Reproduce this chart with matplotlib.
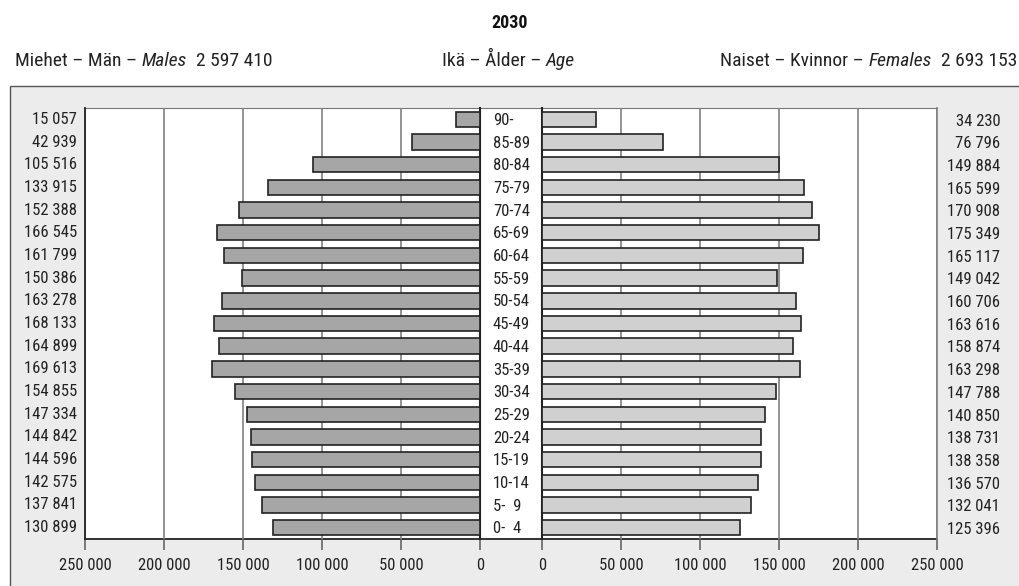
import matplotlib
matplotlib.use("Agg")
import matplotlib.pyplot as plt
from matplotlib.patches import Rectangle
from matplotlib.ticker import FuncFormatter

plt.rcParams['font.family'] = ['Roboto Condensed', 'Liberation Sans Narrow',
                               'Liberation Sans', 'DejaVu Sans']

ages = ["90-", "85-89", "80-84", "75-79", "70-74", "65-69", "60-64", "55-59",
        "50-54", "45-49", "40-44", "35-39", "30-34", "25-29", "20-24", "15-19",
        "10-14", "5-  9", "0-  4"]
males = [15057, 42939, 105516, 133915, 152388, 166545, 161799, 150386, 163278,
         168133, 164899, 169613, 154855, 147334, 144842, 144596, 142575, 137841,
         130899]
females = [34230, 76796, 149884, 165599, 170908, 175349, 165117, 149042, 160706,
           163616, 158874, 163298, 147788, 140850, 138731, 138358, 136570, 132041,
           125396]
ticks = [0, 50000, 100000, 150000, 200000, 250000]
title = "2030"
males_total = "2 597 410"
females_total = "2 693 153"


def fmt(v):
    return f"{int(v):,}".replace(",", " ")


W, H = 1020, 586
fig = plt.figure(figsize=(W / 100, H / 100), dpi=100)
fig.patch.set_facecolor('white')


def fx(px):
    return px / W


def fy(py):
    return 1 - py / H


# outer grey box
fig.patches.append(Rectangle((fx(10), -0.01), fx(1020) - fx(10), fy(86) + 0.01,
                             transform=fig.transFigure, facecolor='#ececec',
                             edgecolor='#555555', linewidth=1.0, zorder=-5))

top, bot = 108, 539
bottom_f = fy(bot)
height_f = (bot - top) / H

# white plotting background spanning both halves
bg = fig.add_axes([fx(85), bottom_f, fx(937) - fx(85), height_f])
bg.set_facecolor('white')
bg.set_xticks([])
bg.set_yticks([])
for s in ['left', 'right']:
    bg.spines[s].set_visible(False)
bg.spines['top'].set_color('#777777')
bg.spines['bottom'].set_color('#222222')
bg.spines['bottom'].set_linewidth(1.3)

axL = fig.add_axes([fx(85), bottom_f, fx(480) - fx(85), height_f])
axR = fig.add_axes([fx(542), bottom_f, fx(937) - fx(542), height_f])

n = len(ages)
ypos = list(range(n))[::-1]

for ax, vals, col in [(axL, males, '#a6a6a6'), (axR, females, '#d0d0d0')]:
    ax.patch.set_alpha(0)
    ax.barh(ypos, vals, height=0.68, color=col, edgecolor='#222222',
            linewidth=1.2, zorder=3)
    ax.set_ylim(-0.5, n - 0.5)
    ax.set_yticks([])
    ax.set_xticks(ticks)
    ax.xaxis.set_major_formatter(FuncFormatter(lambda v, p: fmt(v)))
    ax.tick_params(axis='x', length=8, width=1.2, color='#666666',
                   labelsize=12, pad=6, labelcolor='#222222')
    ax.grid(axis='x', color='#808080', linewidth=1.2, zorder=0)
    ax.spines['top'].set_visible(False)
    ax.spines['bottom'].set_visible(False)

axL.set_xlim(250000, 0)
axR.set_xlim(0, 250000)
axL.spines['left'].set_color('#222222')
axL.spines['right'].set_color('#222222')
axL.spines['left'].set_linewidth(1.3)
axL.spines['right'].set_linewidth(1.5)
axR.spines['left'].set_color('#222222')
axR.spines['left'].set_linewidth(1.5)
axR.spines['right'].set_color('#808080')
axR.spines['right'].set_linewidth(1.2)

# value and age labels
age_x = (493 - 542) / (937 - 542)
for y, m, f, a in zip(ypos, males, females, ages):
    axL.text(-0.02, y, fmt(m), transform=axL.get_yaxis_transform(),
             ha='right', va='center', fontsize=12, color='#222222')
    axR.text(1.16, y - 0.08, fmt(f), transform=axR.get_yaxis_transform(),
             ha='right', va='center', fontsize=12, color='#222222')
    axR.text(age_x, y - 0.05, a, transform=axR.get_yaxis_transform(),
             ha='left', va='center', fontsize=12, color='#222222',
             clip_on=False, zorder=10)

# headings
fig.text(0.5, fy(28), title, ha='center', va='baseline', fontsize=13,
         fontweight='bold', color='#111111')


def place(parts, x, y, align, size=14):
    fig.canvas.draw()
    r = fig.canvas.get_renderer()
    widths = []
    tmp = []
    for txt, st in parts:
        t = fig.text(0, 0, txt, fontsize=size, style=st)
        widths.append(t.get_window_extent(r).width / W)
        tmp.append(t)
    for t in tmp:
        t.remove()
    total = sum(widths)
    cx = x if align == 'left' else x - total
    for (txt, st), w in zip(parts, widths):
        fig.text(cx, y, txt, ha='left', va='baseline', fontsize=size, style=st,
                 color='#222222')
        cx += w


place([("Miehet – Män – ", 'normal'), ("Males", 'italic'),
       ("  " + males_total, 'normal')], fx(15), fy(66), 'left')
place([("Ikä – Ålder – ", 'normal'), ("Age", 'italic')], fx(442), fy(66), 'left')
place([("Naiset – Kvinnor – ", 'normal'), ("Females", 'italic'),
       ("  " + females_total, 'normal')], fx(1017), fy(66), 'right')

fig.savefig("out.png", dpi=100)
